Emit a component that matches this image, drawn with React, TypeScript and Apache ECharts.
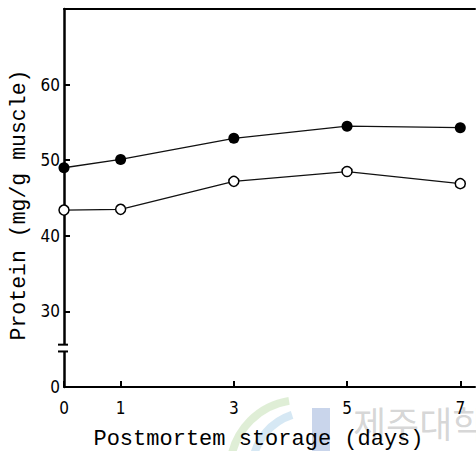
import React, { useEffect, useRef } from "react";
import * as echarts from "echarts";

const days = [0, 1, 3, 5, 7];
const filledValues = [49.0, 50.1, 52.9, 54.5, 54.3];
const openValues = [43.4, 43.5, 47.2, 48.5, 46.9];
// The y axis is broken: the bottom position (value 20) is labelled "0".
const yTickValues = [20, 30, 40, 50, 60];
const yTickLabels = ["0", "30", "40", "50", "60"];
const xTitle = "Postmortem storage (days)";
const yTitle = "Protein (mg/g muscle)";
const watermark = "제주대학교";

export default function App() {
  const ref = useRef<HTMLDivElement>(null);
  useEffect(() => {
    if (!ref.current) return;
    document.body.style.margin = "0";
    const chart = echarts.init(ref.current, null, { renderer: "svg" });
    const labelFont = "'DejaVu Sans Condensed', 'DejaVu Sans', sans-serif";
    const titleFont = "'Liberation Mono', 'DejaVu Sans Mono', monospace";
    chart.setOption({
      animation: false,
      backgroundColor: "#fff",
      grid: { left: 64, top: 9, right: 1, bottom: 64, containLabel: false, outerBoundsMode: "none" },
      xAxis: [
        {
          type: "value",
          min: 0,
          max: 7.26,
          axisLine: { show: true, lineStyle: { color: "#000", width: 2 } },
          axisTick: { show: true, inside: true, length: 6, customValues: days, lineStyle: { color: "#000", width: 2 } },
          axisLabel: { customValues: days, color: "#000", fontSize: 17, fontFamily: labelFont, margin: 12 },
          splitLine: { show: false },
          name: xTitle,
          nameLocation: "middle",
          nameGap: 41,
          nameTextStyle: { color: "#000", fontSize: 22, fontFamily: titleFont, padding: [0, 22, 0, 0] },
        },
        {
          type: "value",
          position: "top",
          min: 0,
          max: 7.26,
          axisLine: { show: true, onZero: false, lineStyle: { color: "#000", width: 2 } },
          axisTick: { show: false },
          axisLabel: { show: false },
          splitLine: { show: false },
        },
      ],
      yAxis: {
        type: "value",
        min: 20,
        max: 70,
        axisLine: { show: true, lineStyle: { color: "#000", width: 2.5 } },
        axisTick: { show: true, inside: true, length: 6, customValues: yTickValues.slice(1), lineStyle: { color: "#000", width: 2 } },
        axisLabel: {
          customValues: yTickValues,
          color: "#000",
          fontSize: 17,
          fontFamily: labelFont,
          margin: 4,
          formatter: (v: number) => yTickLabels[yTickValues.indexOf(v)] ?? "",
        },
        splitLine: { show: false },
        name: yTitle,
        nameLocation: "middle",
        nameGap: 32,
        nameTextStyle: { color: "#000", fontSize: 21.5, fontFamily: titleFont, padding: [0, 14, 0, 0] },
      },
      series: [
        {
          type: "line",
          data: days.map((d, i) => [d, filledValues[i]]),
          symbol: "circle",
          symbolSize: 11,
          itemStyle: { color: "#000" },
          lineStyle: { color: "#111", width: 1.3 },
          z: 3,
        },
        {
          type: "line",
          data: days.map((d, i) => [d, openValues[i]]),
          symbol: "circle",
          symbolSize: 10,
          itemStyle: { color: "#fff", borderColor: "#000", borderWidth: 1.5 },
          lineStyle: { color: "#111", width: 1.3 },
          z: 3,
        },
      ],
    });

    const ax = chart.convertToPixel({ xAxisIndex: 0 }, 0) as number;
    const yA = chart.convertToPixel({ yAxisIndex: 0 }, 25.6) as number;
    const yB = chart.convertToPixel({ yAxisIndex: 0 }, 24.7) as number;
    chart.setOption({
      graphic: [
        {
          type: "group",
          z: -10,
          silent: true,
          children: [
            { type: "arc", shape: { cx: 300, cy: 470, r: 70, startAngle: Math.PI * 1.05, endAngle: Math.PI * 1.45 }, style: { stroke: "rgba(150,200,120,0.3)", lineWidth: 8, fill: "none" } },
            { type: "arc", shape: { cx: 310, cy: 470, r: 58, startAngle: Math.PI * 1.05, endAngle: Math.PI * 1.4 }, style: { stroke: "rgba(120,180,220,0.3)", lineWidth: 8, fill: "none" } },
            { type: "rect", shape: { x: 312, y: 408, width: 18, height: 50 }, style: { fill: "rgba(120,150,205,0.4)" } },
            { type: "text", x: 353, y: 404, style: { text: watermark, fontSize: 36, fontFamily: "'Noto Sans CJK KR', sans-serif", fill: "rgba(150,150,150,0.4)" } },
          ],
        },
        { type: "rect", shape: { x: ax - 3, y: yA, width: 6, height: yB - yA }, style: { fill: "#fff" }, z: 100 },
        { type: "line", shape: { x1: ax - 6, y1: yA, x2: ax + 4, y2: yA }, style: { stroke: "#000", lineWidth: 2 }, z: 101 },
        { type: "line", shape: { x1: ax - 6, y1: yB, x2: ax + 4, y2: yB }, style: { stroke: "#000", lineWidth: 2 }, z: 101 },
      ],
    });
    return () => chart.dispose();
  }, []);
  return <div ref={ref} style={{ width: 476, height: 451 }} />;
}
